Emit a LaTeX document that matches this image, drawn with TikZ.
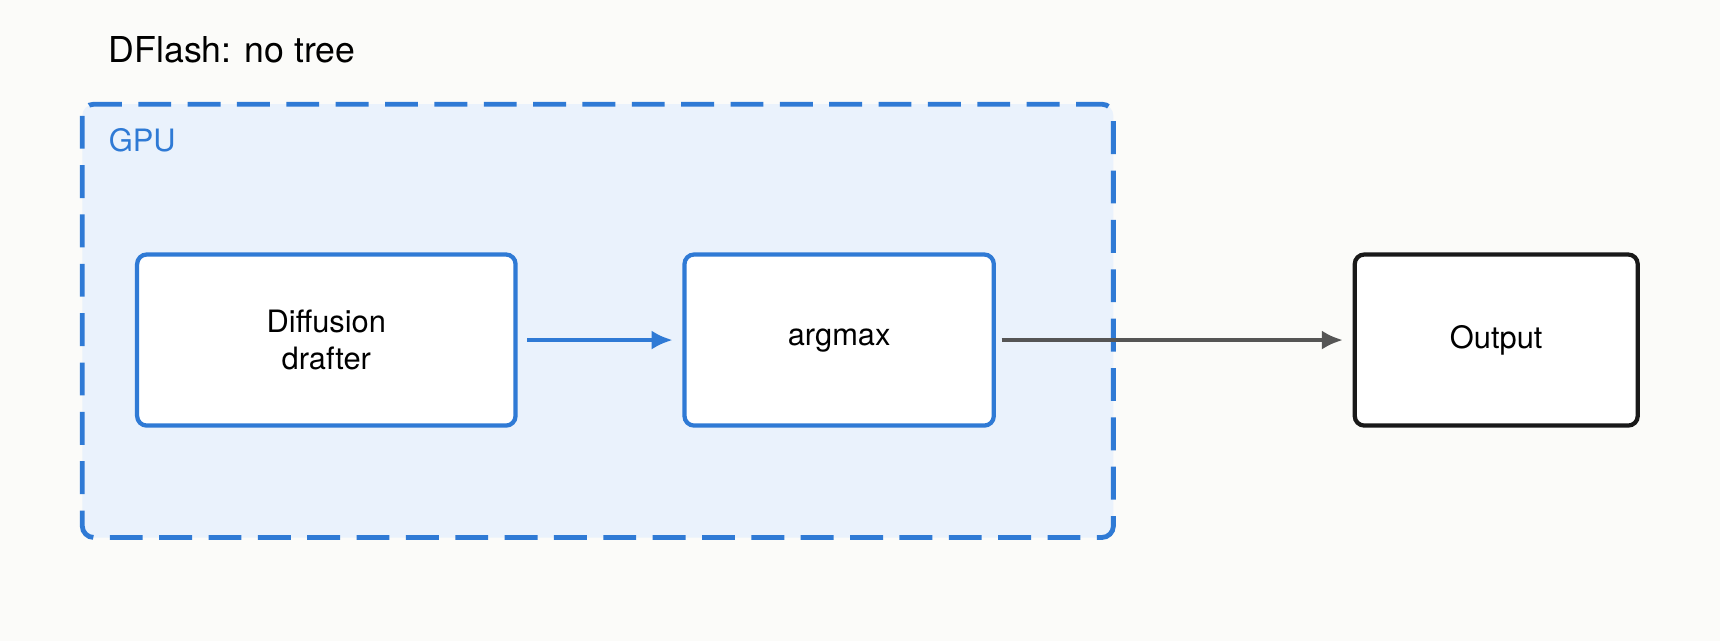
\documentclass[tikz,border=0pt]{standalone}
\usepackage{fontspec}
\setmainfont{TeX Gyre Heros}
\begin{document}
\begin{tikzpicture}[x=0.02cm,y=-0.02cm,
  box/.style={draw=blue1,fill=white,line width=2.2pt,rounded corners=5pt,inner sep=0pt,font=\fontsize{16}{19}\selectfont,align=center},
  arr/.style={line width=2.4pt,-{Latex[length=11pt,width=10pt]}}]
\usetikzlibrary{arrows.meta}
\definecolor{blue1}{HTML}{2F7AD5}
\definecolor{bg}{HTML}{FBFBF9}
\definecolor{gpubg}{HTML}{EAF2FC}
\definecolor{gr}{HTML}{555555}
\fill[bg] (0,0) rectangle (1568,584);
\useasboundingbox (0,0) rectangle (1568,584);
\draw[blue1,fill=gpubg,line width=2.5pt,dash pattern=on 0.6cm off 0.3cm,rounded corners=6pt] (75,95) rectangle (1015,490);
\node[anchor=west,font=\fontsize{18.5}{22}\selectfont] (title) at (93,45) {DFlash: no tree};
\node[anchor=west,text=blue1,font=\fontsize{16}{19}\selectfont] (gpu) at (93,128) {GPU};
\node[box,minimum width=345*0.02cm,minimum height=156*0.02cm] (d) at (297.5,310) {Diffusion\\drafter};
\node[box,minimum width=282*0.02cm,minimum height=156*0.02cm] (a) at (765,310) {argmax};
\node[box,draw=black!90,minimum width=258*0.02cm,minimum height=156*0.02cm] (o) at (1364,310) {Output};
\draw[arr,blue1] ([xshift=5pt]d.east) -- ([xshift=-5pt]a.west);
\draw[arr,gr] ([xshift=3pt]a.east) -- ([xshift=-5pt]o.west);
\end{tikzpicture}
\end{document}
